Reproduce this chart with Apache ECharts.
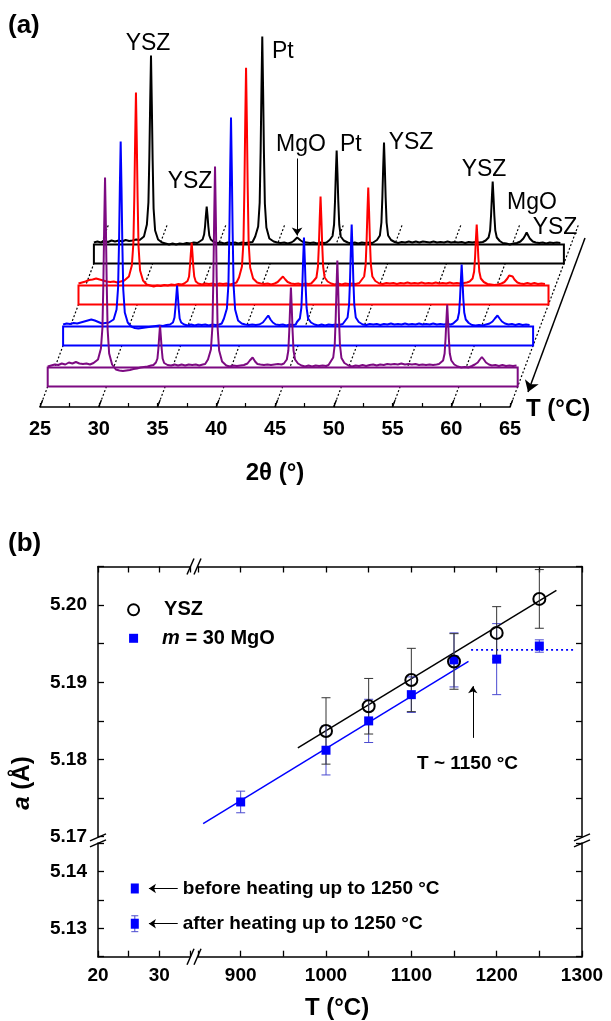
<!DOCTYPE html>
<html>
<head>
<meta charset="utf-8">
<title>XRD patterns and lattice parameter</title>
<script src="https://cdn.jsdelivr.net/npm/echarts/dist/echarts.min.js"></script>
<style>
  html, body { margin: 0; padding: 0; background: #fff; }
  #chart { width: 611px; height: 1021px; }
</style>
</head>
<body>
<div id="chart"></div>
<script>
// ---------- panel (a): XRD patterns, [2theta, intensity above baseline] ----------
var blackTrace = [
  [25.0,2],[25.3,3],[25.6,2],[25.9,3.5],[26.2,2.5],[26.5,4],[26.8,3],[27.1,4],[27.4,3],[27.7,4.5],[28.0,3.5],[28.3,4],[28.6,5],[28.9,4.5],
  [29.26,8],[29.51,20],[29.64,42],[29.72,88],[29.79,142],[29.86,189],[29.93,140],[30.0,84],[30.08,36],[30.21,14],[30.46,5],
  [30.8,2],[31.1,1],[31.4,0],[31.7,1],[32.0,0],[32.3,1],[32.6,0.5],[32.9,1.5],[33.2,1],[33.5,2],[33.8,1.5],[34.0,3],
  [34.25,5],[34.38,10],[34.46,18],[34.53,29],[34.6,38],[34.67,29],[34.74,18],[34.82,9],[34.95,5],[35.2,2.5],
  [35.5,1.5],[35.8,2],[36.1,1],[36.4,2],[36.7,1.5],[37.0,2],[37.3,1],[37.6,2],[37.9,1.5],[38.2,2],[38.5,2.5],
  [38.73,8],[38.98,18],[39.11,42],[39.19,93],[39.26,155],[39.33,208],[39.40,155],[39.47,93],[39.55,41],[39.68,17],[39.93,6],
  [40.3,3],[40.6,2],[40.9,1.5],[41.2,2],[41.5,1],[41.8,2],[42.0,3.5],[42.15,5],[42.3,7],[42.45,5.5],[42.6,4],[42.8,2.5],
  [43.1,2],[43.4,1.5],[43.7,2],[44.0,1],[44.3,2],[44.6,1.5],[44.8,2],
  [45.06,4.5],[45.31,8.5],[45.44,20],[45.52,43],[45.59,71],[45.66,94],[45.73,71],[45.80,43],[45.88,20],[46.01,8],[46.26,4],
  [46.6,2],[46.9,1],[47.2,2],[47.5,1],[47.8,2],[48.1,1.5],[48.4,2],[48.7,1.5],
  [49.09,4.5],[49.34,9],[49.47,22],[49.55,47],[49.62,77],[49.69,102],[49.76,77],[49.83,47],[49.91,22],[50.04,9],[50.29,4.5],
  [50.6,2.5],[50.9,1.5],[51.2,2.5],[51.5,2],[51.8,3],[52.1,2],[52.4,3],[52.7,2],[53.0,3],[53.3,2.5],[53.6,2],[53.9,3],
  [54.2,2],[54.5,2.5],[54.8,2],[55.1,3],[55.4,2],[55.7,2.5],[56.0,2],[56.3,2.5],[56.6,1.5],[56.9,2.5],[57.2,2],[57.5,2.5],
  [57.8,2],[58.1,2.5],
  [58.34,4],[58.59,7],[58.72,14],[58.80,29],[58.87,47],[58.94,63],[59.01,47],[59.08,29],[59.16,14],[59.29,7],[59.54,3.5],
  [59.8,1.5],[60.1,1],[60.4,0],[60.7,1],[61.0,1.5],[61.3,3],[61.55,6],[61.7,9],[61.83,12],[61.96,9],[62.1,6],[62.35,3],
  [62.6,2],[62.9,1.5],[63.2,2],[63.5,1],[63.8,2],[64.1,1.5],[64.4,2],[64.7,1.5]
];
var redTrace = [
  [25.0,2],[25.3,3],[25.6,4],[25.9,5.5],[26.2,6],[26.5,7],[26.8,6],[27.1,5],[27.4,4],[27.7,3.5],[28.0,4],[28.3,3],[28.6,4],[28.9,5],
  [29.29,9],[29.54,20],[29.67,42],[29.75,88],[29.82,145],[29.89,193],[29.96,145],[30.03,88],[30.11,39],[30.24,15],[30.49,5],
  [30.8,1],[31.1,0],[31.4,-1],[31.7,0],[32.0,-0.5],[32.3,0.5],[32.6,0],[32.9,1],[33.2,0.5],[33.5,1.5],[33.8,1],[34.0,2],
  [34.28,4.5],[34.41,9],[34.49,20],[34.56,32],[34.63,43],[34.70,32],[34.77,19],[34.85,9],[34.98,4],[35.2,2],
  [35.5,1],[35.8,2],[36.1,1.5],[36.4,2],[36.7,1],[37.0,2],[37.3,1.5],[37.6,2],[37.9,1],[38.2,2],[38.45,3],
  [38.66,8],[38.91,19],[39.04,44],[39.12,98],[39.19,163],[39.26,218],[39.33,163],[39.40,98],[39.48,43],[39.61,18],[39.86,7],
  [40.2,3],[40.5,2],[40.8,1.5],[41.1,2],[41.4,1],[41.7,2],[41.95,3.5],[42.15,6],[42.4,9],[42.6,6],[42.8,3.5],
  [43.1,2],[43.4,1.5],[43.7,2],[44.0,1],[44.3,2],[44.6,1.5],[44.8,2],
  [45.0,4.5],[45.25,8],[45.38,19],[45.46,41],[45.53,67],[45.6,89],[45.67,67],[45.74,41],[45.82,19],[45.95,8],[46.2,4],
  [46.5,2],[46.8,1],[47.1,2],[47.4,1],[47.7,2],[48.0,1.5],[48.3,2],[48.6,1.5],[48.9,2.5],
  [49.06,4.5],[49.31,9],[49.44,21],[49.52,45],[49.59,74],[49.66,98],[49.73,74],[49.80,45],[49.88,21],[50.01,9],[50.26,4.5],
  [50.6,2],[50.9,1.5],[51.2,2.5],[51.5,2],[51.8,2.5],[52.1,1.5],[52.4,2.5],[52.7,2],[53.0,3],[53.3,2],[53.6,2.5],[53.9,2],
  [54.2,3],[54.5,2],[54.8,2.5],[55.1,2],[55.4,3],[55.7,2],[56.0,2.5],[56.3,2],[56.6,3],[56.9,2],[57.2,2.5],[57.5,2],
  [57.8,2.5],[58.05,3],
  [58.29,4],[58.54,7],[58.67,14],[58.75,28],[58.82,46],[58.89,61],[58.96,46],[59.03,28],[59.11,14],[59.24,7],[59.49,3.5],
  [59.8,1.5],[60.1,1],[60.4,0.5],[60.7,1],[61.0,2],[61.25,3.5],[61.5,7],[61.65,10],[61.81,12],[61.95,9],[62.1,6],[62.35,3],
  [62.6,2],[62.9,1.5],[63.2,2.5],[63.5,1.5],[63.8,2.5],[64.1,1.5],[64.4,2],[64.7,1.5]
];
var blueTrace = [
  [25.0,2],[25.3,3],[25.6,2.5],[25.9,3.5],[26.2,3],[26.5,4],[26.8,5],[27.1,6],[27.4,7],[27.7,6],[28.0,4.5],[28.3,3],[28.6,3.5],[28.9,4],
  [29.3,7],[29.55,17],[29.68,39],[29.76,84],[29.83,139],[29.9,185],[29.97,139],[30.04,84],[30.12,37],[30.25,14],[30.5,4],
  [30.8,0],[31.1,-1.5],[31.4,-2],[31.7,-1.5],[32.0,-1],[32.3,-0.5],[32.6,0],[32.9,0.5],[33.2,1],[33.5,0.5],[33.8,1.5],[34.1,2],
  [34.35,4],[34.48,9],[34.56,19],[34.63,30],[34.70,41],[34.77,30],[34.84,18],[34.92,8],[35.05,4],[35.3,2],
  [35.6,1],[35.9,2],[36.2,1],[36.5,2],[36.8,1.5],[37.1,2],[37.4,1],[37.7,2],[38.0,1.5],[38.3,2],[38.5,3],
  [38.69,8],[38.94,18],[39.07,42],[39.15,94],[39.22,156],[39.29,209],[39.36,156],[39.43,94],[39.51,41],[39.64,17],[39.89,6],
  [40.2,3],[40.5,2],[40.8,1.5],[41.1,2],[41.4,1.5],[41.7,2],[42.0,4],[42.2,7],[42.46,11],[42.65,7],[42.85,4],
  [43.1,2],[43.4,1.5],[43.7,2],[44.0,1],[44.3,2],[44.6,1.5],[44.8,2],
  [44.9,4.5],[45.15,8],[45.28,19],[45.36,41],[45.43,67],[45.5,89],[45.57,67],[45.64,41],[45.72,19],[45.85,8],[46.1,4],
  [46.4,2],[46.7,1],[47.0,2],[47.3,1],[47.6,2],[47.9,1.5],[48.2,2],[48.5,1.5],[48.8,2.5],
  [48.96,4.5],[49.21,9],[49.34,22],[49.42,47],[49.49,77],[49.56,102],[49.63,77],[49.70,47],[49.78,22],[49.91,9],[50.16,4.5],
  [50.5,2],[50.8,1.5],[51.1,2.5],[51.4,2],[51.7,2.5],[52.0,1.5],[52.3,2.5],[52.6,2],[52.9,3],[53.2,2],[53.5,2.5],[53.8,2],
  [54.1,3],[54.4,2],[54.7,2.5],[55.0,2],[55.3,3],[55.6,2],[55.9,2.5],[56.2,2],[56.5,3],[56.8,2],[57.1,2.5],[57.4,2],
  [57.7,2.5],[58.0,2],[58.2,3],
  [58.32,4],[58.57,7],[58.70,14],[58.78,28],[58.85,46],[58.92,62],[58.99,46],[59.06,28],[59.14,14],[59.27,7],[59.52,3.5],
  [59.8,1.5],[60.1,1],[60.4,1.5],[60.7,1],[61.0,2],[61.3,3],[61.55,5],[61.75,8],[61.97,11],[62.15,8],[62.35,5],[62.6,3],
  [62.9,2],[63.2,2.5],[63.5,1.5],[63.8,2.5],[64.1,1.5],[64.4,2],[64.7,1.5]
];
var purpleTrace = [
  [25.0,1],[25.3,2],[25.6,3],[25.9,2.5],[26.2,4],[26.5,3],[26.8,5],[27.1,4],[27.4,5.5],[27.7,4],[28.0,3.5],[28.3,4],[28.6,3],[28.9,4.5],
  [29.28,8],[29.53,19],[29.66,40],[29.74,86],[29.81,143],[29.88,190],[29.95,143],[30.02,86],[30.10,38],[30.23,14],[30.48,3],
  [30.8,-2],[31.1,-3],[31.4,-3.5],[31.7,-3],[32.0,-2.5],[32.3,-1.5],[32.6,-1],[32.9,0],[33.2,0.5],[33.5,1],[33.8,2],[34.0,2.5],
  [34.21,5],[34.34,9],[34.42,19],[34.49,31],[34.56,42],[34.63,31],[34.70,19],[34.78,9],[34.91,4.5],[35.2,2.5],
  [35.5,2],[35.8,3],[36.1,2],[36.4,3],[36.7,2],[37.0,3],[37.3,2.5],[37.6,3],[37.9,2],[38.2,3],[38.4,3.5],
  [38.64,8],[38.89,18],[39.02,41],[39.10,90],[39.17,150],[39.24,201],[39.31,150],[39.38,90],[39.46,40],[39.59,17],[39.84,6],
  [40.2,2],[40.5,1],[40.8,2],[41.1,1.5],[41.4,2],[41.7,2.5],[42.0,4],[42.2,7],[42.44,10],[42.65,6],[42.85,3.5],
  [43.1,3],[43.4,2.5],[43.7,3],[44.0,2.5],[44.3,3],[44.6,3.5],[44.9,3],[45.1,4],
  [45.35,8],[45.48,17],[45.56,37],[45.63,60],[45.70,80],[45.77,60],[45.84,37],[45.92,17],[46.05,8],[46.3,4],
  [46.6,2],[46.9,1],[47.2,2],[47.5,1],[47.8,2],[48.1,1.5],[48.4,2],[48.7,1.5],[48.9,2.5],
  [49.05,4.5],[49.30,10],[49.43,23],[49.51,49],[49.58,80],[49.65,107],[49.72,80],[49.79,49],[49.87,23],[50.0,9.5],[50.25,4.5],
  [50.6,2],[50.9,1],[51.2,2],[51.5,1.5],[51.8,2.5],[52.1,1.5],[52.4,2.5],[52.7,3],[53.0,2],[53.3,3],[53.6,2.5],[53.9,3.5],
  [54.2,3],[54.5,3.5],[54.8,3],[55.1,4],[55.4,3],[55.7,3.5],[56.0,3],[56.3,3.5],[56.6,2.5],[56.9,3],[57.2,2.5],[57.5,3],
  [57.8,2.5],[58.1,3],[58.3,3.5],
  [58.4,4],[58.65,7],[58.78,14],[58.86,29],[58.93,47],[59.0,63],[59.07,47],[59.14,29],[59.22,14],[59.35,7],[59.6,3],
  [59.9,1],[60.2,0],[60.5,0.5],[60.8,0],[61.1,1.5],[61.35,3],[61.6,5],[61.78,8],[61.95,10.5],[62.12,8],[62.3,5],[62.55,3],
  [62.8,2],[63.1,2.5],[63.4,1.5],[63.7,2.5],[64.0,1.5],[64.3,2],[64.6,1.5],[64.9,2]
];
var twoThetaTicks = [25, 30, 35, 40, 45, 50, 55, 60, 65];

// ---------- panel (b): lattice parameter a (Å) vs T (°C) ----------
var yszT   = [1000, 1050, 1100, 1150, 1200, 1250];
var yszA   = [5.1837, 5.1869, 5.1903, 5.1927, 5.1964, 5.2008];
var yszErr = [0.0043, 0.0036, 0.0041, 0.0036, 0.0034, 0.0038];
var mgoT   = [900, 1000, 1050, 1100, 1150, 1200, 1250];
var mgoA   = [5.1745, 5.1812, 5.1850, 5.1884, 5.1929, 5.1930, 5.1947];
var mgoErr = [0.0014, 0.0032, 0.0028, 0.0023, 0.0035, 0.0046, 0.0008];
var yszFit = [[967, 5.1815], [1270, 5.2019]];
var mgoFit = [[856, 5.1717], [1167, 5.1927]];
var mgoPlateau = [[1170, 5.1942], [1290, 5.1942]];
var onsetArrow = [[1172, 5.1828], [1172, 5.1895]];
// legend samples drawn in the low-T / low-a segments
var legendUpper = [[25.8, 5.1994], [25.8, 5.1957]];
var legendLower = [[26.0, 5.1370], [26.0, 5.1308]];
var legendLowerErr = 0.0014;

// ---------- layout ----------
var FONT = '"Liberation Sans", Arial, Helvetica, sans-serif';
var AX_LEFT = 40, AX_Y = 407, AX_W = 470;   // front 2theta axis of panel (a)
var STEP_Y = 41, SLANT = 0.3756;            // offset between stacked patterns
var DEG_PX = AX_W / 40;
var RECT_DEPTH = 19, LAYER_H = 236;
var DOT_LEN = 183;

var layers = [   // back to front
  { data: blackTrace,  color: '#000000', k: 4 },
  { data: redTrace,    color: '#ff0000', k: 3 },
  { data: blueTrace,   color: '#0000ff', k: 2 },
  { data: purpleTrace, color: '#7d0a82', k: 1 }
];

var chart = echarts.init(document.getElementById('chart'), null, { renderer: 'canvas' });

var grids = [], xAxes = [], yAxes = [], series = [];

// base grid: front 2theta axis
grids.push({ left: AX_LEFT, top: AX_Y - 190, width: AX_W, height: 190 });
xAxes.push({
  gridIndex: 0, type: 'value', min: 25, max: 65, interval: 2.5,
  axisLine: { onZero: false, lineStyle: { color: '#000', width: 1.5 } },
  axisTick: { inside: true, length: 4, lineStyle: { color: '#000', width: 1.2 } },
  axisLabel: {
    margin: 12, color: '#000', fontSize: 20, fontWeight: 'bold', fontFamily: FONT,
    formatter: function (v) { return v % 5 === 0 ? String(v) : ''; }
  },
  splitLine: { show: false }
});
yAxes.push({ gridIndex: 0, type: 'value', min: 0, max: 190, show: false });

var dx = function (px) { return px * SLANT / DEG_PX; };
series.push({
  type: 'lines', coordinateSystem: 'cartesian2d', xAxisIndex: 0, yAxisIndex: 0,
  z: 0, silent: true, clip: false,
  lineStyle: { color: '#000', width: 1.2, type: [2, 2], opacity: 1 },
  data: twoThetaTicks.map(function (t) { return { coords: [[t, 0], [t + dx(DOT_LEN), DOT_LEN]] }; })
});
series.push({
  type: 'lines', coordinateSystem: 'cartesian2d', xAxisIndex: 0, yAxisIndex: 0,
  z: 0, silent: true, clip: false,
  lineStyle: { color: '#000', width: 1.3, opacity: 1 },
  data: twoThetaTicks.map(function (t) { return { coords: [[t, 0], [t + dx(7), 7]] }; })
});
// temperature direction arrow
series.push({
  type: 'lines', coordinateSystem: 'cartesian2d', xAxisIndex: 0, yAxisIndex: 0,
  z: 10, silent: true, clip: false,
  symbol: ['none', 'arrow'], symbolSize: 11,
  lineStyle: { color: '#000', width: 1.5, opacity: 1 },
  data: [{ coords: [[25 + (585 - AX_LEFT) / DEG_PX, AX_Y - 238], [25 + (528 - AX_LEFT) / DEG_PX, AX_Y - 392]] }]
});

layers.forEach(function (L, i) {
  var gi = i + 1;
  var rectBottom = AX_Y - STEP_Y / 2 - STEP_Y * (L.k - 1);
  grids.push({ left: AX_LEFT + (AX_Y - rectBottom) * SLANT, top: rectBottom - LAYER_H, width: AX_W, height: LAYER_H });
  xAxes.push({ gridIndex: gi, type: 'value', min: 25, max: 65, show: false });
  yAxes.push({ gridIndex: gi, type: 'value', min: -RECT_DEPTH, max: LAYER_H - RECT_DEPTH, show: false });
  series.push({
    type: 'custom', xAxisIndex: gi, yAxisIndex: gi, z: 1, silent: true, clip: false,
    data: [[25, 65]],
    renderItem: function (params, api) {
      var p0 = api.coord([api.value(0), 0]);
      var p1 = api.coord([api.value(1), -RECT_DEPTH]);
      return { type: 'rect', shape: { x: p0[0], y: p0[1], width: p1[0] - p0[0], height: p1[1] - p0[1] },
               style: { fill: '#fff', stroke: L.color, lineWidth: 2 } };
    }
  });
  series.push({
    type: 'line', xAxisIndex: gi, yAxisIndex: gi, z: 2 + i, silent: true,
    showSymbol: false, symbol: 'none',
    lineStyle: { color: L.color, width: 2 },
    data: L.data
  });
  if (L.k === 4) {
    series.push({
      type: 'lines', coordinateSystem: 'cartesian2d', xAxisIndex: gi, yAxisIndex: gi,
      z: 10, silent: true, clip: false,
      symbol: ['none', 'arrow'], symbolSize: 8,
      lineStyle: { color: '#000', width: 1, opacity: 1 },
      data: [{ coords: [[42.29, 86], [42.29, 9]] }]
    });
  }
});

// ---------- panel (b) grids ----------
var B_TOP = 566.5, B_BREAK_U = 836.7, B_BREAK_L = 843, B_BOT = 956.7;
var B_L = 98, B_LMID = 190, B_RMID = 198, B_R = 582;
grids.push({ left: B_L, top: B_TOP, width: B_LMID - B_L, height: B_BREAK_U - B_TOP });      // 5 UL
grids.push({ left: B_RMID, top: B_TOP, width: B_R - B_RMID, height: B_BREAK_U - B_TOP });   // 6 UR
grids.push({ left: B_L, top: B_BREAK_L, width: B_LMID - B_L, height: B_BOT - B_BREAK_L });  // 7 LL
grids.push({ left: B_RMID, top: B_BREAK_L, width: B_R - B_RMID, height: B_BOT - B_BREAK_L });// 8 LR

var frameLine = { onZero: false, lineStyle: { color: '#000', width: 1.5 } };
var tickIn = { inside: true, length: 6, lineStyle: { color: '#000', width: 1.3 } };
var labelB = { color: '#000', fontSize: 19, fontWeight: 'bold', fontFamily: FONT };
function xAxisB(gi, pos, min, max, step, labelEvery) {
  return {
    gridIndex: gi, type: 'value', position: pos, min: min, max: max, interval: step,
    axisLine: frameLine, axisTick: tickIn, splitLine: { show: false },
    axisLabel: labelEvery ? Object.assign({ margin: 10, formatter: function (v) {
      return v % labelEvery === 0 ? String(v) : ''; } }, labelB) : { show: false }
  };
}
function yAxisB(gi, pos, min, max, showLabel) {
  return {
    gridIndex: gi, type: 'value', position: pos, min: min, max: max, interval: 0.005,
    axisLine: frameLine, axisTick: tickIn, splitLine: { show: false },
    axisLabel: showLabel ? Object.assign({ margin: 11, formatter: function (v) {
      var c = Math.round(v * 1000);
      return c % 10 === 0 ? (c / 1000).toFixed(2) : ''; } }, labelB) : { show: false }
  };
}
xAxes.push(xAxisB(5, 'top', 20, 35, 5, 0));
xAxes.push(xAxisB(6, 'top', 850, 1300, 50, 0));
xAxes.push(xAxisB(7, 'bottom', 20, 35, 5, 10));
xAxes.push(xAxisB(8, 'bottom', 850, 1300, 50, 100));
yAxes.push(yAxisB(5, 'left', 5.17, 5.205, true));
yAxes.push(yAxisB(6, 'right', 5.17, 5.205, false));
yAxes.push(yAxisB(7, 'left', 5.125, 5.145, true));
yAxes.push(yAxisB(8, 'right', 5.125, 5.145, false));

function errorBars(color, capHalf) {
  return function (params, api) {
    var x = api.value(0);
    var lo = api.coord([x, api.value(1)]), hi = api.coord([x, api.value(2)]);
    var st = { stroke: color, lineWidth: 1, fill: null };
    return { type: 'group', children: [
      { type: 'line', shape: { x1: lo[0], y1: lo[1], x2: hi[0], y2: hi[1] }, style: st },
      { type: 'line', shape: { x1: lo[0] - capHalf, y1: lo[1], x2: lo[0] + capHalf, y2: lo[1] }, style: st },
      { type: 'line', shape: { x1: hi[0] - capHalf, y1: hi[1], x2: hi[0] + capHalf, y2: hi[1] }, style: st }
    ] };
  };
}
var BLUE = '#0000ff', BLUE_BAR = '#4a4ad0', BLACK_BAR = '#333333';

series.push({ type: 'line', xAxisIndex: 6, yAxisIndex: 6, z: 3, symbol: 'none', silent: true,
  lineStyle: { color: '#000', width: 1.5 }, data: yszFit });
series.push({ type: 'line', xAxisIndex: 6, yAxisIndex: 6, z: 3, symbol: 'none', silent: true,
  lineStyle: { color: BLUE, width: 1.5 }, data: mgoFit });
series.push({ type: 'line', xAxisIndex: 6, yAxisIndex: 6, z: 3, symbol: 'none', silent: true,
  lineStyle: { color: BLUE, width: 1.6, type: [2, 3] }, data: mgoPlateau });
series.push({ type: 'custom', xAxisIndex: 6, yAxisIndex: 6, z: 4, silent: true,
  encode: { x: 0, y: [1, 2] }, renderItem: errorBars(BLUE_BAR, 4.5),
  data: mgoT.map(function (t, i) { return [t, mgoA[i] - mgoErr[i], mgoA[i] + mgoErr[i]]; }) });
series.push({ type: 'custom', xAxisIndex: 6, yAxisIndex: 6, z: 4, silent: true,
  encode: { x: 0, y: [1, 2] }, renderItem: errorBars(BLACK_BAR, 4.5),
  data: yszT.map(function (t, i) { return [t, yszA[i] - yszErr[i], yszA[i] + yszErr[i]]; }) });
series.push({ type: 'scatter', name: 'm = 30 MgO', xAxisIndex: 6, yAxisIndex: 6, z: 5, silent: true,
  symbol: 'rect', symbolSize: 9, itemStyle: { color: BLUE, opacity: 1 },
  data: mgoT.map(function (t, i) { return [t, mgoA[i]]; }) });
series.push({ type: 'scatter', name: 'YSZ', xAxisIndex: 6, yAxisIndex: 6, z: 6, silent: true,
  symbol: 'circle', symbolSize: 12,
  itemStyle: { color: 'rgba(0,0,0,0)', borderColor: '#000', borderWidth: 2, opacity: 1 },
  data: yszT.map(function (t, i) { return [t, yszA[i]]; }) });
series.push({ type: 'lines', coordinateSystem: 'cartesian2d', xAxisIndex: 6, yAxisIndex: 6, z: 6, silent: true,
  symbol: ['none', 'arrow'], symbolSize: 7, lineStyle: { color: '#000', width: 1, opacity: 1 },
  data: [{ coords: onsetArrow }] });

// legend samples (upper)
var legendFont = { color: '#000', fontSize: 20, fontWeight: 'bold', fontFamily: FONT };
series.push({ type: 'scatter', xAxisIndex: 5, yAxisIndex: 5, z: 6, silent: true,
  symbol: 'circle', symbolSize: 11,
  itemStyle: { color: 'rgba(0,0,0,0)', borderColor: '#000', borderWidth: 2, opacity: 1 },
  label: Object.assign({ show: true, position: 'right', distance: 24, formatter: 'YSZ' }, legendFont),
  data: [legendUpper[0]] });
series.push({ type: 'scatter', xAxisIndex: 5, yAxisIndex: 5, z: 6, silent: true,
  symbol: 'rect', symbolSize: 9, itemStyle: { color: BLUE, opacity: 1 },
  label: Object.assign({ show: true, position: 'right', distance: 24, formatter: '{i|m} = 30 MgO',
    rich: { i: { fontStyle: 'italic', fontWeight: 'bold', fontSize: 20, fontFamily: FONT, color: '#000' } } }, legendFont),
  data: [legendUpper[1]] });
// legend samples (lower)
var legendFont2 = { color: '#000', fontSize: 19, fontWeight: 'bold', fontFamily: FONT };
series.push({ type: 'custom', xAxisIndex: 7, yAxisIndex: 7, z: 4, silent: true, clip: false,
  encode: { x: 0, y: [1, 2] }, renderItem: errorBars(BLUE_BAR, 3.5),
  data: [[legendLower[1][0], legendLower[1][1] - legendLowerErr, legendLower[1][1] + legendLowerErr]] });
series.push({ type: 'scatter', xAxisIndex: 7, yAxisIndex: 7, z: 6, silent: true,
  symbol: 'rect', symbolSize: [8, 10], itemStyle: { color: BLUE, opacity: 1 },
  label: Object.assign({ show: true, position: 'right', distance: 44,
    formatter: function (p) { return p.dataIndex === 0 ? 'before heating up to 1250 °C' : 'after heating up to 1250 °C'; } }, legendFont2),
  data: legendLower });
series.push({ type: 'lines', coordinateSystem: 'cartesian2d', xAxisIndex: 7, yAxisIndex: 7, z: 6, silent: true, clip: false,
  symbol: ['none', 'arrow'], symbolSize: 7, lineStyle: { color: '#000', width: 1, opacity: 1 },
  data: legendLower.map(function (p) { return { coords: [[33.0, p[1]], [28.3, p[1]]] }; }) });

// ---------- texts and axis breaks ----------
function txt(s, x, y, size, weight, align, extra) {
  return Object.assign({ type: 'text', x: x, y: y, z: 20, silent: true,
    style: { text: s, fill: '#000', font: (weight || 'normal') + ' ' + size + 'px ' + FONT,
             align: align || 'center', verticalAlign: 'middle' } }, extra || {});
}
function brk(x, y, vertical) {
  var lines = vertical
    ? [[-8, 1, 8, -6], [-8, 7, 8, 0]]
    : [[-7, 8, 0, -8], [0, 8, 7, -8]];
  var kids = [{ type: 'rect', shape: vertical ? { x: -3, y: -2, width: 6, height: 6 } : { x: -3, y: -2, width: 6, height: 4 },
                style: { fill: '#fff' } }];
  lines.forEach(function (l) {
    kids.push({ type: 'line', shape: { x1: l[0], y1: l[1], x2: l[2], y2: l[3] }, style: { stroke: '#000', lineWidth: 1.5 } });
  });
  return { type: 'group', x: x, y: y, z: 20, silent: true, children: kids };
}

var graphics = [
  txt('(a)', 8, 26, 26, 'bold', 'left'),
  txt('YSZ', 148, 44, 23),
  txt('Pt', 272, 52, 23, 'normal', 'left'),
  txt('YSZ', 190, 182, 23),
  txt('MgO', 301, 145, 23),
  txt('Pt', 340, 145, 23, 'normal', 'left'),
  txt('YSZ', 411, 143, 23),
  txt('YSZ', 484, 170, 23),
  txt('MgO', 532, 203, 23),
  txt('YSZ', 555, 228, 23),
  txt('T (°C)', 526, 409, 24, 'bold', 'left'),
  txt('2θ (°)', 275, 473, 24, 'bold'),
  txt('(b)', 8, 544, 26, 'bold', 'left'),
  txt('T ~ 1150 °C', 417, 764, 19, 'bold', 'left'),
  txt('T (°C)', 337, 1008, 24, 'bold'),
  {
    type: 'text', x: 22, y: 783, rotation: Math.PI / 2, z: 20, silent: true,
    style: { text: '{i|a} (Å)', fill: '#000', font: 'bold 24px ' + FONT, align: 'center', verticalAlign: 'middle',
             rich: { i: { fontStyle: 'italic', fontWeight: 'bold', fontSize: 24, fontFamily: FONT } } }
  },
  brk(B_L, (B_BREAK_U + B_BREAK_L) / 2, true),
  brk(B_R, (B_BREAK_U + B_BREAK_L) / 2, true),
  brk((B_LMID + B_RMID) / 2, B_TOP, false),
  brk((B_LMID + B_RMID) / 2, B_BOT, false)
];

chart.setOption({
  animation: false,
  backgroundColor: '#fff',
  grid: grids,
  xAxis: xAxes,
  yAxis: yAxes,
  series: series,
  graphic: graphics
});
</script>
</body>
</html>
